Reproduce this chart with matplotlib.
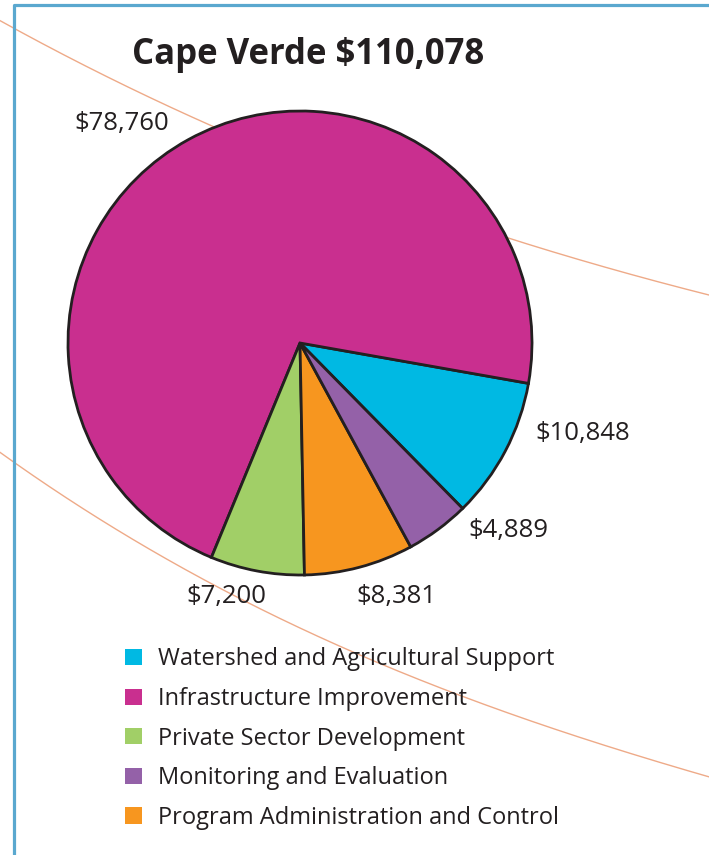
import numpy as np
import matplotlib
matplotlib.use("Agg")
import matplotlib.pyplot as plt
from matplotlib.patches import Patch

# ---- data ----
title = "Cape Verde $110,078"
pie_categories = ["Watershed and Agricultural Support", "Infrastructure Improvement",
                  "Private Sector Development", "Program Administration and Control",
                  "Monitoring and Evaluation"]
pie_values = [10848, 78760, 7200, 8381, 4889]
pie_colors = ["#00b9e3", "#c92f8f", "#a1cf67", "#f7961f", "#9461a8"]
legend_order = ["Watershed and Agricultural Support", "Infrastructure Improvement",
                "Private Sector Development", "Monitoring and Evaluation",
                "Program Administration and Control"]

FONT = "Open Sans"
TXT = "#231f20"
W, H = 709, 855

fig = plt.figure(figsize=(W / 100, H / 100), dpi=100)
fig.patch.set_facecolor("white")

# decorative background: frame and thin orange arcs (figure pixel coords)
bg = fig.add_axes([0, 0, 1, 1])
bg.set_xlim(0, W)
bg.set_ylim(H, 0)
bg.axis("off")
bg.plot([14, 14, W + 5], [H + 5, 5, 5], color="#5aa8cf", lw=2.3, solid_capstyle="butt")
for pts in ([(0, 20), (14, 29), (210, 125), (505, 237), (709, 295)],
            [(0, 453), (14, 462), (150, 548), (300, 630), (467, 697), (709, 777)]):
    px, py = np.array(pts).T
    c = np.polyfit(px, py, 3)
    xx = np.linspace(0, W, 300)
    bg.plot(xx, np.polyval(c, xx), color="#eeaa88", lw=1.0, zorder=1)

# pie axes
cx, cy, r = 300, 343, 232
ax = fig.add_axes([(cx - r) / W, 1 - (cy + r) / H, 2 * r / W, 2 * r / H])
wedges, _ = ax.pie(pie_values, colors=pie_colors, startangle=-45.5, counterclock=True,
                   radius=1.0,
                   wedgeprops=dict(edgecolor=TXT, linewidth=2.0, joinstyle="miter"))
ax.set_xlim(-1, 1)
ax.set_ylim(-1, 1)
ax.set_aspect("equal")
ax.axis("off")

# value labels: (angle deg, radial distance) layout per category
label_layout = {
    "Infrastructure Improvement": (129, 1.22),
    "Watershed and Agricultural Support": (-17.7, 1.28),
    "Monitoring and Evaluation": (-42, 1.21),
    "Program Administration and Control": (-69.3, 1.17),
    "Private Sector Development": (-106.2, 1.14),
}
for cat, val in zip(pie_categories, pie_values):
    ang, dist = label_layout[cat]
    a = np.deg2rad(ang)
    ax.text(dist * np.cos(a), dist * np.sin(a), f"${val:,}", ha="center", va="center",
            fontsize=18.5, family=FONT, color=TXT, clip_on=False)

fig.text(308 / W, 1 - 55 / H, title, ha="center", va="center", fontsize=25,
         fontweight="bold", family=FONT, color=TXT)

# legend
handles = [Patch(facecolor=pie_colors[pie_categories.index(c)], edgecolor="none")
           for c in legend_order]
leg = fig.legend(handles, legend_order, loc="upper left",
                 bbox_to_anchor=(116 / W, 1 - 638 / H), frameon=False,
                 prop=dict(family=FONT, size=17), labelcolor=TXT,
                 handlelength=0.68, handleheight=0.68, handletextpad=0.72,
                 labelspacing=0.66, borderaxespad=0)

fig.savefig("out.png", dpi=100, facecolor="white")
